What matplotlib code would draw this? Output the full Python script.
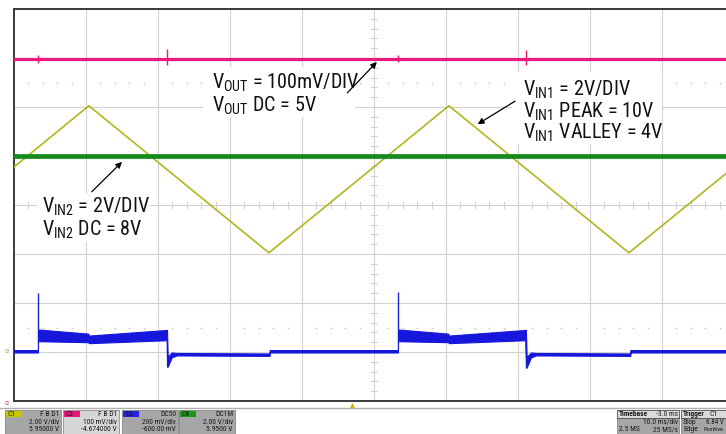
import numpy as np
import matplotlib.pyplot as plt
from matplotlib import font_manager
from matplotlib.patches import Rectangle

# pick a narrow sans if there is one (scope screenshot labels are condensed)
ttf = font_manager.fontManager.ttflist
names = {f.name for f in ttf}
if 'Liberation Sans Narrow' in names:
    nfam, nstretch, anno_fs = 'Liberation Sans Narrow', 'normal', 15
elif 'Roboto Condensed' in names:
    nfam, nstretch, anno_fs = 'Roboto Condensed', 'normal', 14.5
elif any(f.name == 'DejaVu Sans' and f.stretch == 'condensed' for f in ttf):
    nfam, nstretch, anno_fs = 'DejaVu Sans', 'condensed', 13
else:
    nfam, nstretch, anno_fs = 'Liberation Sans', 'normal', 12.8
plt.rcParams['font.family'] = [nfam, 'DejaVu Sans']
plt.rcParams['font.stretch'] = nstretch
plt.rcParams['mathtext.fontset'] = 'custom'
for k in ['rm', 'it', 'bf']:
    plt.rcParams['mathtext.' + k] = nfam + ':stretch=' + nstretch
small_fs = 5.4

# channel settings: volts per division and offset
vdiv = {'C1': 2.0, 'C2': 0.1, 'C3': 200.0, 'C4': 2.0}
offset = {'C1': -5.95, 'C2': -4.674, 'C3': -600.0, 'C4': -5.95}

# C1 = VIN1 triangle (ms, V)
vin1_t = [0, 10.4, 35.4, 60.4, 85.4, 100]
vin1_v = [7.5, 10.0, 4.0, 10.0, 4.0, 7.5]

# C4 = VIN2 dc (ms, V)
vin2_t = [0, 100]
vin2_v = [7.96, 7.96]

# C2 = VOUT (V), flat with small glitches at the load steps
vout_t = [0, 100]
vout_v = [4.972, 4.972]
glitch_t = [3.33, 21.25, 53.33, 71.1]
glitch_hi = [4.981, 4.992, 4.980, 4.991]
glitch_lo = [4.964, 4.959, 4.965, 4.959]

# C3 = load current sense (ms, mV), drawn as a band lo..hi
c3_t = [0, 3.33, 3.33, 10.3, 10.4, 21.2, 21.25, 21.35, 21.9, 22.6, 35.5, 35.5,
        53.33, 53.33, 60.3, 60.4, 71.0, 71.1, 71.2, 71.8, 72.5, 85.6, 85.6, 100]
c3_lo = [-2, -2, 44, 40, 36, 48, -60, -60, -22, -14, -16, -2,
         -2, 44, 40, 36, 48, -64, -64, -22, -14, -16, -2, -2]
c3_hi = [8, 8, 92, 75, 67, 90, 90, -20, -2, -4, -6, 8,
         8, 92, 75, 67, 90, 90, -20, -2, -4, -6, 8, 8]
c3_spike_t = [3.33, 53.33]
c3_spike_top = [241, 246]


def to_div(v, ch):
    return (np.asarray(v, dtype=float) + offset[ch]) / vdiv[ch]


W, H = 726, 435
fig = plt.figure(figsize=(W / 100, H / 100), dpi=100)
fig.patch.set_facecolor('white')

# overlay in pixel coords for the scope status bar
ov = fig.add_axes([0, 0, 1, 1])
ov.set_xlim(0, W)
ov.set_ylim(H, 0)
ov.axis('off')

ax = fig.add_axes([14 / W, (H - 402) / H, 720 / W, 392 / H])
ax.set_xlim(0, 100)
ax.set_ylim(-4, 4)
ax.set_xticks([])
ax.set_yticks([])
for s in ['left', 'top', 'bottom']:
    ax.spines[s].set_color('#3a3a3a')
    ax.spines[s].set_linewidth(1.4)
ax.spines['right'].set_visible(False)

# graticule
gc = '#d2d2d2'
for x in range(10, 100, 10):
    ax.axvline(x, color=gc, lw=0.8, zorder=1)
for y in range(-3, 4):
    ax.axhline(y, color=gc, lw=0.8, zorder=1)
for y in np.arange(-4, 4.01, 0.2):
    ax.plot([49.6, 50.4], [y, y], color=gc, lw=0.8, zorder=1)
for x in np.arange(0, 100.1, 2):
    ax.plot([x, x], [-0.06, 0.06], color=gc, lw=0.8, zorder=1)
dots = [x for x in np.arange(2, 100, 2) if x % 10 != 0]
for y in [2.5, -2.5]:
    ax.plot(dots, [y] * len(dots), ls='none', marker='s', ms=1.1, color='#c4c4c4',
            mec='none', zorder=1)

# white boxes behind the notes
for (x0, y0, w, h) in [(26.3, 1.79, 21.1, 1.02), (69.2, 1.25, 20.8, 1.47), (3.2, -0.75, 15.7, 0.98)]:
    ax.add_patch(Rectangle((x0, y0), w, h, fc='white', ec='none', zorder=2))

# traces
ax.plot(vin1_t, to_div(vin1_v, 'C1'), color='#b4b423', lw=1.2, zorder=3)
ax.plot(vin2_t, to_div(vin2_v, 'C4'), color='#16891c', lw=3.4, zorder=3)
ax.plot(vout_t, to_div(vout_v, 'C2'), color='#e8187c', lw=2.3, zorder=3)
ax.vlines(glitch_t, to_div(glitch_lo, 'C2'), to_div(glitch_hi, 'C2'),
          color='#e8187c', lw=1.0, zorder=3)

ax.fill_between(c3_t, to_div(c3_lo, 'C3'), to_div(c3_hi, 'C3'), color='#1717dc',
                lw=0.8, ec='#1717dc', zorder=3)
ax.vlines(c3_spike_t, to_div([40, 40], 'C3'), to_div(c3_spike_top, 'C3'),
          color='#2020e0', lw=1.0, zorder=3)

# notes
def note(x, y, s):
    ax.text(x, y, s, fontsize=anno_fs, va='baseline', ha='left', color='#111111', zorder=4)

note(27.5, 2.39, r'$\mathrm{V_{OUT}}$ = 100mV/DIV')
note(27.5, 1.92, r'$\mathrm{V_{OUT}}$ DC = 5V')
note(70.7, 2.245, r'$\mathrm{V_{IN1}}$ = 2V/DIV')
note(70.7, 1.806, r'$\mathrm{V_{IN1}}$ PEAK = 10V')
note(70.7, 1.367, r'$\mathrm{V_{IN1}}$ VALLEY = 4V')
note(3.9, -0.143, r'$\mathrm{V_{IN2}}$ = 2V/DIV')
note(3.9, -0.612, r'$\mathrm{V_{IN2}}$ DC = 8V')

arrow = dict(arrowstyle='-|>', color='black', lw=0.9, mutation_scale=9, shrinkA=0, shrinkB=0)
ax.annotate('', xy=(50.4, 2.92), xytext=(46.3, 2.29), arrowprops=arrow, zorder=4)
ax.annotate('', xy=(64.4, 1.65), xytext=(69.6, 2.12), arrowprops=arrow, zorder=4)
ax.annotate('', xy=(15.0, 0.88), xytext=(10.8, 0.27), arrowprops=arrow, zorder=4)

# status bar
ov.plot([0, W], [409, 409], color='#b0b0b0', lw=1.0)
ov.plot(352, 405.5, marker='^', ms=3.5, color='#c8b400', mec='none')
ov.text(7, 352, 'C3', fontsize=3.5, color='#9a9a50', ha='center', va='center')
ov.text(7, 404, 'C2', fontsize=3.5, color='#e8187c', ha='center', va='center')

chans = [
    ('C1', '#c8c800', '#a6a6a6', 'F B D1', '2.00 V/div', '5.95000 V'),
    ('C2', '#e8177d', '#d6d6d6', 'F B D1', '100 mV/div', '-4.674000 V'),
    ('C3', '#2222e0', '#a6a6a6', 'DC50', '200 mV/div', '-600.00 mV'),
    ('C4', '#1e961e', '#a6a6a6', 'DC1M', '2.00 V/div', '5.9500 V'),
]
box_x = [5, 63, 122, 179]
rows_y = [414.5, 422.5, 430]
for x0, (name, tag, body, l1, l2, l3) in zip(box_x, chans):
    ov.add_patch(Rectangle((x0, 410.5), 56, 30, fc=body, ec='#7a7a7a', lw=0.5))
    ov.add_patch(Rectangle((x0 + 1, 411.5), 16, 6.5, fc=tag, ec='none'))
    ov.text(x0 + 3, rows_y[0], name, fontsize=small_fs, va='center', color='#1a1a1a')
    for s, yy in zip([l1, l2, l3], rows_y):
        ov.text(x0 + 54, yy, s, fontsize=small_fs, va='center', ha='right', color='#1a1a1a')

# timebase box
ov.add_patch(Rectangle((617, 418.5), 62, 22, fc='#a6a6a6', ec='#7a7a7a', lw=0.5))
ov.add_patch(Rectangle((617, 410.5), 62, 8, fc='#dadada', ec='#4a4a4a', lw=0.6))
ov.text(619, rows_y[0], 'Timebase', fontsize=small_fs, va='center', fontweight='bold', color='#1a1a1a')
ov.text(678, rows_y[0], '-3.0 ms', fontsize=small_fs, va='center', ha='right', color='#1a1a1a')
ov.text(678, rows_y[1], '10.0 ms/div', fontsize=small_fs, va='center', ha='right', color='#1a1a1a')
ov.text(619, rows_y[2], '2.5 MS', fontsize=small_fs, va='center', color='#1a1a1a')
ov.text(678, rows_y[2], '25 MS/s', fontsize=small_fs, va='center', ha='right', color='#1a1a1a')

# trigger box (runs off the right edge on the scope)
ov.add_patch(Rectangle((681, 418.5), 60, 22, fc='#a6a6a6', ec='#7a7a7a', lw=0.5))
ov.add_patch(Rectangle((681, 410.5), 60, 8, fc='#dadada', ec='#4a4a4a', lw=0.6))
ov.text(683, rows_y[0], 'Trigger', fontsize=small_fs, va='center', fontweight='bold', color='#1a1a1a')
ov.text(710, rows_y[0], 'C1', fontsize=small_fs, va='center', color='#1a1a1a')
ov.text(683, rows_y[1], 'Stop', fontsize=small_fs, va='center', color='#1a1a1a')
ov.text(706, rows_y[1], '6.84 V', fontsize=small_fs - 0.4, va='center', color='#1a1a1a')
ov.text(683, rows_y[2], 'Edge', fontsize=small_fs, va='center', color='#1a1a1a')
ov.text(704, rows_y[2], 'Positive', fontsize=small_fs - 0.8, va='center', color='#1a1a1a')

fig.savefig('out.png', dpi=100)
